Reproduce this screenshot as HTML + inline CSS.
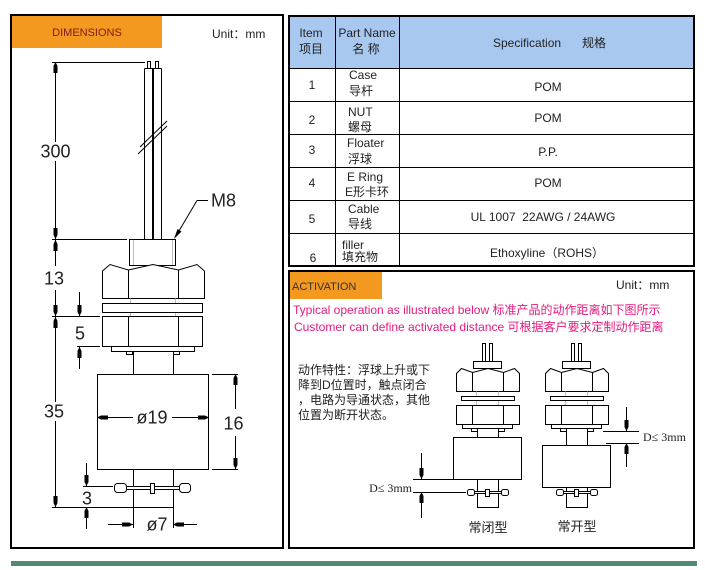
<!DOCTYPE html>
<html><head><meta charset="utf-8"><style>
html,body{margin:0;padding:0;background:#fff;width:705px;height:570px;overflow:hidden}
svg{display:block}
text{font-family:"Liberation Sans","Noto Sans CJK SC",sans-serif}
</style></head><body>
<svg width="705" height="570" viewBox="0 0 705 570" xmlns="http://www.w3.org/2000/svg">
<!-- LEFT PANEL -->
<rect x="11" y="15" width="272" height="533" fill="#fff" stroke="#000" stroke-width="2"/>
<rect x="12" y="16" width="150" height="32" fill="#f4991f"/>
<text x="87" y="36" font-size="11" fill="#7a1a1a" text-anchor="middle">DIMENSIONS</text>
<text x="212" y="38" font-size="12" fill="#222">Unit：mm</text>

<g fill="none" stroke="#000" stroke-width="1">
  <rect x="147.5" y="61.5" width="3" height="7"/>
  <rect x="155.5" y="61.5" width="3" height="7"/>
  <path d="M144.5,68.5 H161.5 M144.5,68.5 V239 M161.5,68.5 V239"/>
  <line x1="153" y1="68" x2="153" y2="239" stroke-width="2"/>
  <line x1="138" y1="154" x2="167" y2="126"/>
  <line x1="140" y1="147" x2="167" y2="121"/>
  <rect x="129.5" y="239.5" width="46" height="26" fill="#fff"/>
  <path stroke="#bbb" d="M133.5,240 V265 M172.5,240 V265"/>
  <path fill="#fff" d="M102.5,298.5 V271 L110,264.5 L128.5,270 L153,264.5 L178.5,270 L197,264.5 L204.5,271 V298.5 Z"/>
  <path d="M128.5,270 V298.5 M178.5,270 V298.5"/>
  <path stroke="#bbb" d="M130.5,298.5 V303 M175.5,298.5 V303 M130.5,313 V316 M175.5,313 V316"/>
  <rect x="102.5" y="303.5" width="100" height="9" fill="#fff"/>
  <rect x="102.5" y="316.5" width="100" height="30" fill="#fff"/>
  <path d="M128.5,316.5 V346.5 M178.5,316.5 V346.5"/>
  <rect x="111.5" y="346.5" width="83" height="5" fill="#fff"/>
  <rect x="126.5" y="351.5" width="6" height="3"/>
  <rect x="173.5" y="351.5" width="6" height="3"/>
  <path d="M133.5,351.5 V374.5 M173.5,351.5 V374.5"/>
  <rect x="97.5" y="374.5" width="111" height="95" fill="#fff"/>
  <path d="M133.5,469.5 V528 M173.5,469.5 V528"/>
  <rect x="118.5" y="486.5" width="66" height="3" fill="#fff"/>
  <rect x="114.5" y="483.5" width="12" height="9" rx="3" fill="#fff"/>
  <rect x="179.5" y="483.5" width="11" height="9" rx="3" fill="#fff"/>
  <rect x="150.5" y="483.5" width="4" height="10" fill="#fff"/>
  <path d="M52,62.5 H145 M52,239.5 H127 M52,316.5 H100 M77,346.5 H100 M52,507.5 H173 M83,486.5 H113 M212,374.5 H238 M212,469.5 H238"/>
  <path d="M55.5,62 V142 M55.5,161 V239 M55.5,240 V266 M55.5,290 V316 M55.5,317 V402 M55.5,421 V507 M79.5,292 V316 M79.5,347 V369 M86.5,463 V486 M86.5,507 V529 M235.5,374 V409 M235.5,436 V469"/>
  <path d="M97,417.5 H133 M172,417.5 H209 M108,524.5 H133 M173,524.5 H197"/>
  <path d="M197,200.5 H208 M197,200.5 L176,236"/>
</g>
<g fill="#000">
  <polygon points="55.5,62 53.5,66 53.5,73 57.5,73 57.5,66"/>
  <polygon points="55.5,239 53.5,235 53.5,228 57.5,228 57.5,235"/>
  <polygon points="55.5,240 53.5,244 53.5,251 57.5,251 57.5,244"/>
  <polygon points="55.5,316 53.5,312 53.5,305 57.5,305 57.5,312"/>
  <polygon points="55.5,317 53.5,321 53.5,328 57.5,328 57.5,321"/>
  <polygon points="55.5,507 53.5,503 53.5,496 57.5,496 57.5,503"/>
  <polygon points="79.5,316 77.5,312 77.5,305 81.5,305 81.5,312"/>
  <polygon points="79.5,347 77.5,351 77.5,358 81.5,358 81.5,351"/>
  <polygon points="235.5,374 233.5,378 233.5,385 237.5,385 237.5,378"/>
  <polygon points="235.5,469 233.5,465 233.5,458 237.5,458 237.5,465"/>
  <polygon points="97,417.5 101,415.5 108,415.5 108,419.5 101,419.5"/>
  <polygon points="209,417.5 205,415.5 198,415.5 198,419.5 205,419.5"/>
  <polygon points="86.5,486 84.5,482 84.5,475 88.5,475 88.5,482"/>
  <polygon points="86.5,507 84.5,511 84.5,518 88.5,518 88.5,511"/>
  <polygon points="133,524.5 129,522.5 122,522.5 122,526.5 129,526.5"/>
  <polygon points="173,524.5 177,522.5 184,522.5 184,526.5 177,526.5"/>
  <polygon points="174,239 177.5,229 181.5,231.5"/>
</g>
<g font-size="18" fill="#222" text-anchor="middle">
  <text x="55.5" y="157.5">300</text>
  <text x="54" y="284.5">13</text>
  <text x="80" y="339.5">5</text>
  <text x="54" y="417.5">35</text>
  <text x="87" y="504.5">3</text>
  <text x="233.5" y="429.5">16</text>
  <text x="152" y="423.5">ø19</text>
  <text x="157" y="530.5">ø7</text>
  <text x="223.5" y="206.5">M8</text>
</g>

<!-- TABLE -->
<rect x="289" y="16" width="405" height="52" fill="#a8c8f0"/>
<g stroke="#000" fill="none">
  <rect x="289" y="16" width="405" height="250" stroke-width="2"/>
  <path d="M289,68.5 H694 M289,101.5 H694 M289,134.5 H694 M289,167.5 H694 M289,200.5 H694 M289,233.5 H694 M335.5,16 V266 M399.5,16 V266"/>
</g>
<g font-size="12" fill="#222">
  <text x="311" y="37" text-anchor="middle">Item</text>
  <text x="311" y="53" text-anchor="middle">项目</text>
  <text x="367" y="37" text-anchor="middle">Part Name</text>
  <text x="366" y="53" text-anchor="middle">名 称</text>
  <text x="493" y="47">Specification</text>
  <text x="582" y="47">规格</text>

  <text x="312" y="89" text-anchor="middle">1</text>
  <text x="349" y="79">Case</text>
  <text x="349" y="95">导杆</text>
  <text x="548" y="91" text-anchor="middle">POM</text>

  <text x="312" y="124" text-anchor="middle">2</text>
  <text x="348" y="116">NUT</text>
  <text x="348" y="131">螺母</text>
  <text x="548" y="122" text-anchor="middle">POM</text>

  <text x="312" y="154" text-anchor="middle">3</text>
  <text x="347" y="147">Floater</text>
  <text x="348" y="163">浮球</text>
  <text x="548" y="156" text-anchor="middle">P.P.</text>

  <text x="312" y="187" text-anchor="middle">4</text>
  <text x="347" y="181">E Ring</text>
  <text x="345" y="196">E形卡环</text>
  <text x="548" y="187" text-anchor="middle">POM</text>

  <text x="312" y="223" text-anchor="middle">5</text>
  <text x="348" y="213">Cable</text>
  <text x="348" y="228">导线</text>
  <text x="543" y="221" text-anchor="middle">UL 1007&#160; 22AWG / 24AWG</text>

  <text x="313" y="262" text-anchor="middle">6</text>
  <text x="342" y="249">filler</text>
  <text x="342" y="261">填充物</text>
  <text x="547" y="257" text-anchor="middle">Ethoxyline（ROHS）</text>
</g>

<!-- ACTIVATION -->
<rect x="289" y="271" width="405" height="277" fill="#fff" stroke="#000" stroke-width="2"/>
<rect x="290" y="272" width="92" height="27" fill="#f4991f"/>
<text x="292" y="290" font-size="11" fill="#333">ACTIVATION</text>
<text x="616" y="289" font-size="12" fill="#222">Unit：mm</text>
<text x="293" y="314" font-size="12" fill="#e6197f">Typical operation as illustrated below 标准产品的动作距离如下图所示</text>
<text x="294" y="331" font-size="12" fill="#e6197f">Customer can define activated distance 可根据客户要求定制动作距离</text>
<g font-size="12" fill="#222">
  <text x="298" y="374">动作特性：浮球上升或下</text>
  <text x="298" y="389">降到D位置时，触点闭合</text>
  <text x="298" y="404">，电路为导通状态，其他</text>
  <text x="298" y="419">位置为断开状态。</text>
</g>

<g transform="translate(488,0)" fill="none" stroke="#000">
  <rect x="-5.5" y="343.5" width="3" height="18"/>
  <rect x="1.5" y="343.5" width="3" height="18"/>
  <rect x="-14.5" y="361.5" width="28" height="7" fill="#fff"/>
  <path fill="#fff" d="M-31.5,391.5 V373.5 L-26.5,368.5 L-15.5,372.5 L0,368.5 L15.5,372.5 L26.5,368.5 L31.5,373.5 V391.5 Z"/>
  <path d="M-15.5,372.5 V391.5 M15.5,372.5 V391.5"/>
  <path stroke="#bbb" d="M-11.5,391.5 V405 M10.5,391.5 V405"/>
  <rect x="-26.5" y="396.5" width="53" height="4" fill="#fff"/>
  <rect x="-31.5" y="405.5" width="63" height="19" fill="#fff"/>
  <path d="M-15.5,405.5 V424.5 M15.5,405.5 V424.5"/>
  <rect x="-25.5" y="424.5" width="50" height="4" fill="#fff"/>
  <rect x="-16.5" y="428.5" width="6" height="3"/>
  <rect x="10.5" y="428.5" width="6" height="3"/>
  <path d="M-10.5,428.5 V437.5 M10.5,428.5 V437.5"/>
  <rect x="-34.5" y="437.5" width="68" height="42" fill="#fff"/>
  <rect x="-10.5" y="479.5" width="21" height="28"/>
  <rect x="-17.5" y="491.5" width="35" height="2" fill="#fff"/>
  <rect x="-20.5" y="489.5" width="7" height="6" rx="2" fill="#fff"/>
  <rect x="13.5" y="489.5" width="7" height="6" rx="2" fill="#fff"/>
  <rect x="-2.5" y="489.5" width="4" height="7" fill="#fff"/>
</g>
<g transform="translate(577,0)" fill="none" stroke="#000">
  <rect x="-5.5" y="343.5" width="3" height="18"/>
  <rect x="1.5" y="343.5" width="3" height="18"/>
  <rect x="-14.5" y="361.5" width="28" height="7" fill="#fff"/>
  <path fill="#fff" d="M-31.5,391.5 V373.5 L-26.5,368.5 L-15.5,372.5 L0,368.5 L15.5,372.5 L26.5,368.5 L31.5,373.5 V391.5 Z"/>
  <path d="M-15.5,372.5 V391.5 M15.5,372.5 V391.5"/>
  <path stroke="#bbb" d="M-11.5,391.5 V405 M10.5,391.5 V405"/>
  <rect x="-26.5" y="396.5" width="53" height="4" fill="#fff"/>
  <rect x="-31.5" y="405.5" width="63" height="19" fill="#fff"/>
  <path d="M-15.5,405.5 V424.5 M15.5,405.5 V424.5"/>
  <rect x="-25.5" y="424.5" width="50" height="4" fill="#fff"/>
  <rect x="-16.5" y="428.5" width="6" height="3"/>
  <rect x="10.5" y="428.5" width="6" height="3"/>
  <path d="M-10.5,428.5 V445.5 M10.5,428.5 V445.5"/>
  <rect x="-34.5" y="445.5" width="68" height="42" fill="#fff"/>
  <rect x="-10.5" y="487.5" width="21" height="20"/>
  <rect x="-17.5" y="491.5" width="35" height="2" fill="#fff"/>
  <rect x="-20.5" y="489.5" width="7" height="6" rx="2" fill="#fff"/>
  <rect x="13.5" y="489.5" width="7" height="6" rx="2" fill="#fff"/>
  <rect x="-2.5" y="489.5" width="4" height="7" fill="#fff"/>
</g>

<g fill="none" stroke="#000">
  <path d="M413,479.5 H454 M413,492.5 H466 M421.5,453 V479 M421.5,492 V518"/>
  <path d="M603,431.5 H639 M606,443.5 H639 M626.5,407 V431 M626.5,443 V467"/>
</g>
<g fill="#000">
  <polygon points="421.5,479 419.5,475 419.5,468 423.5,468 423.5,475"/>
  <polygon points="421.5,492 419.5,496 419.5,503 423.5,503 423.5,496"/>
  <polygon points="626.5,431 624.5,427 624.5,420 628.5,420 628.5,427"/>
  <polygon points="626.5,443 624.5,447 624.5,454 628.5,454 628.5,447"/>
</g>
<g font-size="12" fill="#222">
  <text x="412" y="492" text-anchor="end" style="font-family:'Liberation Serif',serif">D≤ 3mm</text>
  <text x="643" y="441" style="font-family:'Liberation Serif',serif">D≤ 3mm</text>
</g>
<g font-size="13" fill="#222" text-anchor="middle">
  <text x="488" y="532">常闭型</text>
  <text x="577" y="531">常开型</text>
</g>

<rect x="11" y="561" width="686" height="5" fill="#4f8b73"/>
</svg>
</body></html>
